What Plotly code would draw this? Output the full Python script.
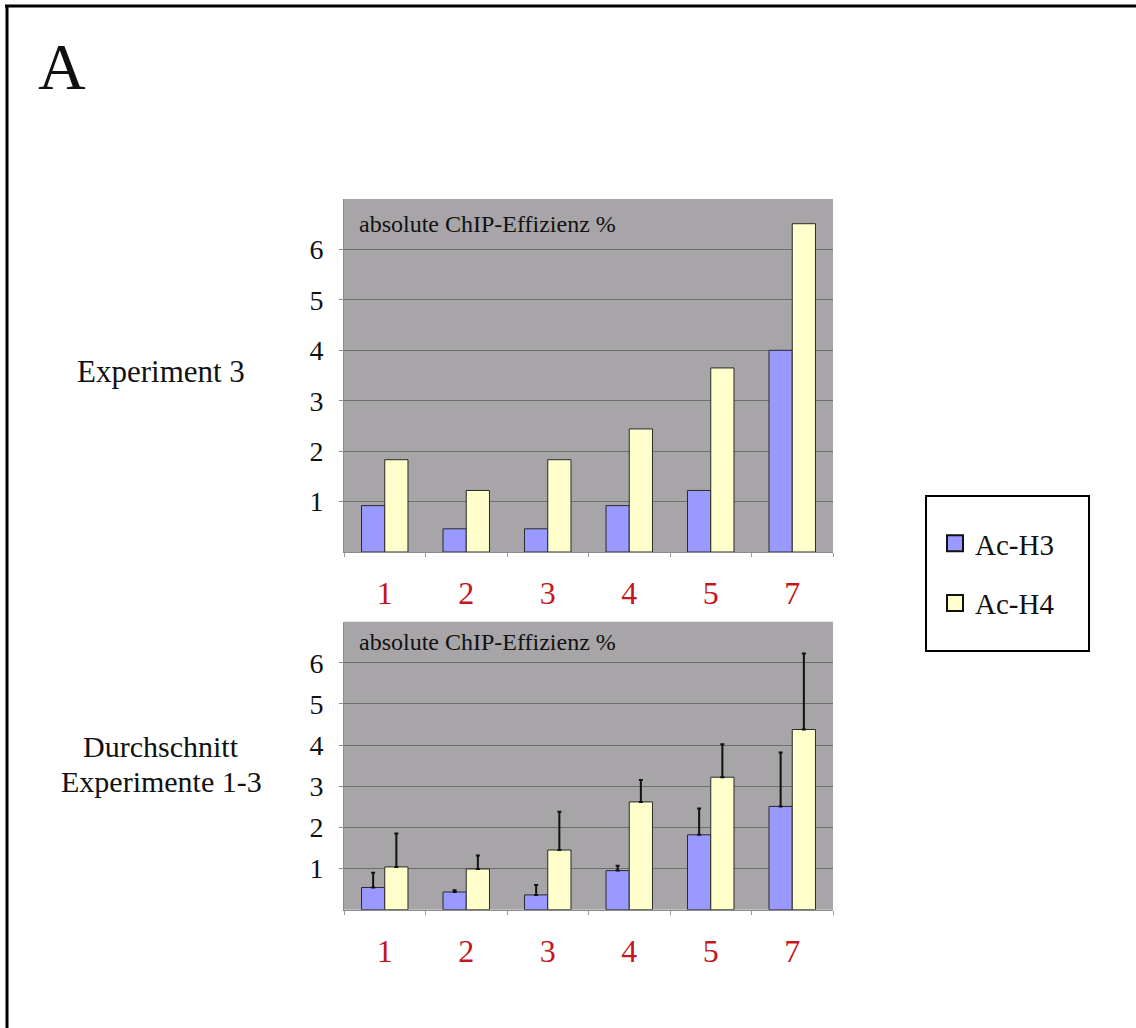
import plotly.graph_objects as go

# Promoter regions on the x axis
categories = ["1", "2", "3", "4", "5", "7"]

# Experiment 3: absolute ChIP efficiency (%)
exp3_h3 = [0.92, 0.46, 0.46, 0.92, 1.22, 4.00]
exp3_h4 = [1.83, 1.22, 1.83, 2.44, 3.65, 6.51]

# Mean of experiments 1-3 with upper error
mean_h3 = [0.54, 0.43, 0.36, 0.95, 1.82, 2.51]
mean_h3_err = [0.36, 0.04, 0.24, 0.12, 0.64, 1.31]
mean_h4 = [1.04, 0.99, 1.45, 2.62, 3.22, 4.38]
mean_h4_err = [0.81, 0.33, 0.93, 0.53, 0.80, 1.85]

series_names = ["Ac-H3", "Ac-H4"]
y_ticks = [1, 2, 3, 4, 5, 6]

W, H = 1136, 1028
SERIF = "Liberation Serif"
BLUE = "#9999FF"
YELLOW = "#FFFFCC"
EDGE = "#2a2a2a"
RED = "#C4161C"
PLOT_BG = "#A7A5A7"


def px_x(p):
    return p / W


def px_y(p):
    return 1 - p / H


fig = go.Figure()

bar_line = dict(color=EDGE, width=1)

# Upper panel
fig.add_trace(go.Bar(x=categories, y=exp3_h3, name=series_names[0], marker=dict(color=BLUE, line=bar_line),
                     xaxis="x", yaxis="y", showlegend=False))
fig.add_trace(go.Bar(x=categories, y=exp3_h4, name=series_names[1], marker=dict(color=YELLOW, line=bar_line),
                     xaxis="x", yaxis="y", showlegend=False))

# Lower panel with one-sided error bars
err_style = dict(type="data", symmetric=False, color="#111111", thickness=2, width=2)
fig.add_trace(go.Bar(x=categories, y=mean_h3, name=series_names[0], marker=dict(color=BLUE, line=bar_line),
                     error_y=dict(array=mean_h3_err, arrayminus=[0] * len(mean_h3_err), **err_style),
                     xaxis="x2", yaxis="y2", showlegend=False))
fig.add_trace(go.Bar(x=categories, y=mean_h4, name=series_names[1], marker=dict(color=YELLOW, line=bar_line),
                     error_y=dict(array=mean_h4_err, arrayminus=[0] * len(mean_h4_err), **err_style),
                     xaxis="x2", yaxis="y2", showlegend=False))

# Legend entries
for name, col, grp in [(series_names[0], BLUE, "a"), (series_names[1], YELLOW, "b")]:
    fig.add_trace(go.Scatter(x=[None], y=[None], mode="markers", name=name, legendgroup=grp,
                             marker=dict(symbol="square", size=16, color=col,
                                         line=dict(color="#111111", width=2)),
                             xaxis="x", yaxis="y"))

xaxis_common = dict(type="category", categoryorder="array", categoryarray=categories,
                    range=[-0.5, 5.5], showgrid=False, showline=True, linecolor="#8c8c8c", linewidth=1,
                    ticks="outside", tickson="boundaries", ticklen=4, tickcolor="#9a9a9a",
                    tickfont=dict(family=SERIF, size=32, color=RED), ticklabelstandoff=13,
                    fixedrange=True)
yaxis_common = dict(range=[0, 7], tickvals=y_ticks, showgrid=True, gridcolor="#6e6e6e", gridwidth=1,
                    zeroline=False, showline=True, linecolor="#8c8c8c", linewidth=1,
                    ticks="outside", ticklen=4, tickcolor="#8c8c8c",
                    tickfont=dict(family=SERIF, size=28, color="#111111"), ticklabelstandoff=10,
                    fixedrange=True)

x_dom = [px_x(344), px_x(833)]
fig.update_layout(
    width=W, height=H,
    margin=dict(l=0, r=0, t=0, b=0),
    paper_bgcolor="white",
    plot_bgcolor=PLOT_BG,
    barmode="group", bargap=0.43, bargroupgap=0,
    xaxis=dict(domain=x_dom, anchor="y", **xaxis_common),
    yaxis=dict(domain=[px_y(552), px_y(199)], anchor="x", **yaxis_common),
    xaxis2=dict(domain=x_dom, anchor="y2", **xaxis_common),
    yaxis2=dict(domain=[px_y(909.7), px_y(621.7)], anchor="x2", **yaxis_common),
    legend=dict(x=px_x(935), y=px_y(518), xanchor="left", yanchor="top",
                bgcolor="rgba(0,0,0,0)", borderwidth=0, traceorder="grouped", tracegroupgap=19,
                font=dict(family=SERIF, size=29, color="#111111")),
    showlegend=True,
)

# Frame, legend box
fig.add_shape(type="line", xref="paper", yref="paper", x0=px_x(5), x1=1, y0=px_y(6), y1=px_y(6),
              line=dict(color="black", width=3))
fig.add_shape(type="line", xref="paper", yref="paper", x0=px_x(7), x1=px_x(7), y0=px_y(5), y1=0,
              line=dict(color="black", width=3))
fig.add_shape(type="rect", xref="paper", yref="paper", x0=px_x(926), x1=px_x(1089), y0=px_y(496), y1=px_y(651),
              line=dict(color="black", width=2), fillcolor="rgba(0,0,0,0)")

# Text labels
texts = [
    dict(text="A", x=px_x(62), y=px_y(66), size=66, anchor="middle"),
    dict(text="Experiment 3", x=px_x(161), y=px_y(371), size=31, anchor="middle"),
    dict(text="Durchschnitt", x=px_x(161), y=px_y(764), size=30, anchor="bottom"),
    dict(text="Experimente 1-3", x=px_x(161), y=px_y(764), size=30, anchor="top"),
]
for t in texts:
    fig.add_annotation(text=t["text"], x=t["x"], y=t["y"], xref="paper", yref="paper",
                       xanchor="center", yanchor=t["anchor"], showarrow=False, borderpad=0,
                       font=dict(family=SERIF, size=t["size"], color="#111111"))

for yy in [224, 642]:
    fig.add_annotation(text="absolute ChIP-Effizienz %", x=px_x(357), y=px_y(yy), xref="paper", yref="paper",
                       xanchor="left", yanchor="middle", showarrow=False,
                       font=dict(family=SERIF, size=24, color="#111111"))

fig.write_html("out.html")
